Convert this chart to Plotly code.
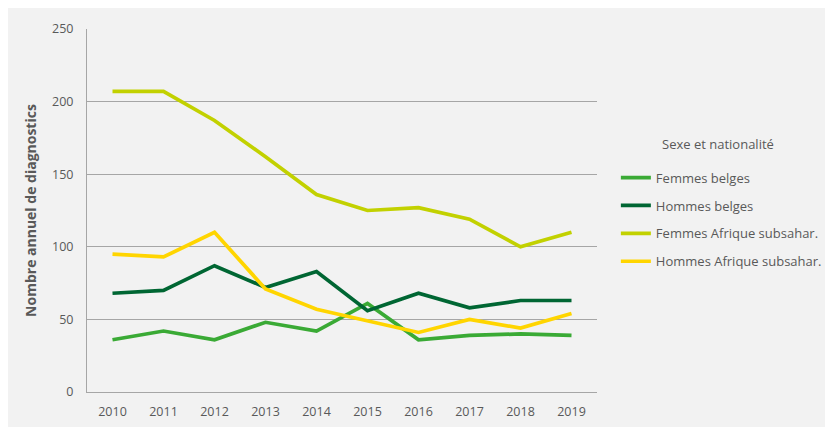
import plotly.graph_objects as go

years = ["2010", "2011", "2012", "2013", "2014", "2015", "2016", "2017", "2018", "2019"]
femmes_belges = [36, 42, 36, 48, 42, 61, 36, 39, 40, 39]
hommes_belges = [68, 70, 87, 72, 83, 56, 68, 58, 63, 63]
femmes_afrique = [207, 207, 187, 162, 136, 125, 127, 119, 100, 110]
hommes_afrique = [95, 93, 110, 71, 57, 49, 41, 50, 44, 54]

series = [
    ("Femmes belges", femmes_belges, "#3aaa35"),
    ("Hommes belges", hommes_belges, "#006633"),
    ("Femmes Afrique subsahar.", femmes_afrique, "#c2d100"),
    ("Hommes Afrique subsahar.", hommes_afrique, "#ffd500"),
]

font_family = "Open Sans, Liberation Sans, sans-serif"
text_color = "#595959"

fig = go.Figure()
for i, (name, vals, col) in enumerate(series):
    fig.add_trace(go.Scatter(
        x=years, y=vals, name=name, mode="lines",
        line=dict(color=col, width=3.7), legendgroup=f"g{i}",
    ))

fig.update_layout(
    width=833, height=427,
    margin=dict(l=79, r=244, t=17, b=43),
    paper_bgcolor="#f2f2f2",
    plot_bgcolor="#f2f2f2",
    font=dict(family=font_family, size=12, color=text_color),
    showlegend=True,
    legend=dict(
        x=1.037, y=0.632, xanchor="left", yanchor="top",
        bgcolor="rgba(0,0,0,0)", tracegroupgap=8,
        font=dict(size=13, color=text_color),
    ),
    xaxis=dict(
        type="category", range=[-0.5, 9.5],
        showgrid=False, showline=True, linecolor="#a6a6a6", linewidth=1,
        ticks="", tickfont=dict(size=12.5, color=text_color), zeroline=False,
        ticklabelstandoff=8,
    ),
    yaxis=dict(
        range=[0, 250], dtick=50,
        showgrid=True, gridcolor="#a6a6a6", gridwidth=1,
        showline=True, linecolor="#a6a6a6", linewidth=1,
        ticks="", zeroline=False, ticklabelstandoff=10,
        tickfont=dict(size=12.5, color=text_color),
        title=dict(text="<b>Nombre annuel de diagnostics</b>",
                   font=dict(size=14, color=text_color), standoff=12),
    ),
    annotations=[dict(
        text="Sexe et nationalité", xref="paper", yref="paper",
        x=(710 - 79) / 510, y=1 - (133 - 17) / 367,
        xanchor="center", yanchor="middle", showarrow=False,
        font=dict(size=13, color=text_color),
    )],
)

fig.write_html("out.html")
